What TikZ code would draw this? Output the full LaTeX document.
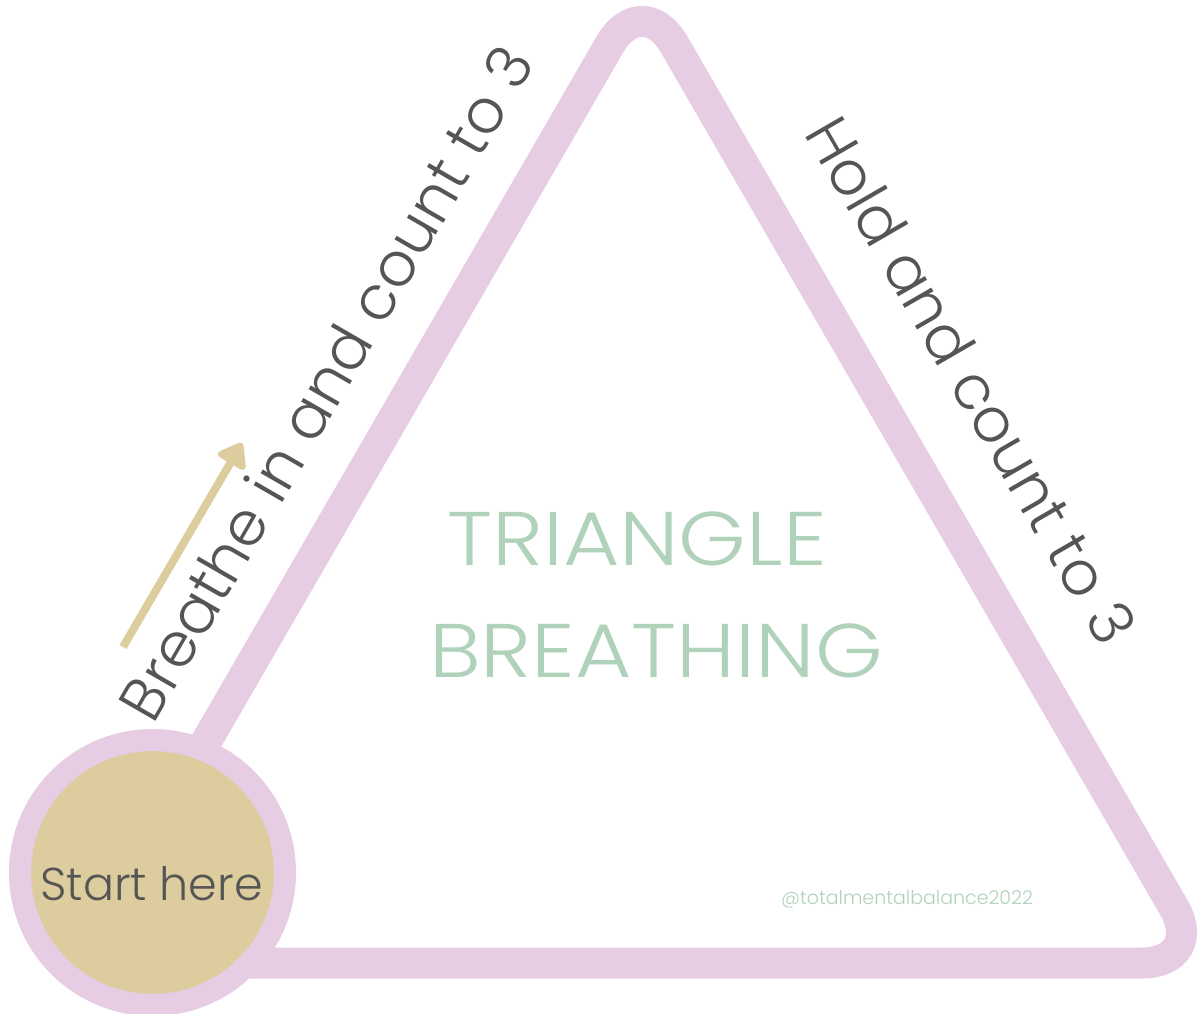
\documentclass[tikz,border=0pt]{standalone}
\usepackage{fontspec}
\setmainfont{Poppins}[UprightFont=* Light]
\newfontfamily\widelight{Poppins}[UprightFont=* Light, FakeStretch=1.14]
\usetikzlibrary{arrows.meta}

\definecolor{breathLilac}{HTML}{E6CDE3}
\definecolor{breathSand}{HTML}{DCCC9E}
\definecolor{breathInk}{HTML}{555555}
\definecolor{breathSage}{HTML}{B0D1BA}

\tikzset{
  sidelabel/.style={text=breathInk, inner sep=0pt, font=\fontsize{61}{61}\selectfont},
  titlelabel/.style={text=breathSage, inner sep=0pt, anchor=base, font=\widelight\fontsize{76}{76}\selectfont},
  startdisc/.style={circle, draw=breathLilac, fill=breathSand, line width=22pt, minimum size=265pt, inner sep=0pt},
}

\begin{document}
\begin{tikzpicture}[x=1pt, y=-1pt]
        \useasboundingbox (0,0) rectangle (1199,1014);

        % corners of the triangle
        \coordinate (baseMid) at (642,963);
        \coordinate (baseR) at (1206,963);
        \coordinate (apex) at (642,-11);
        \coordinate (baseL) at (78,963);
        \draw[breathLilac, line width=31pt, rounded corners=64pt]
            (baseMid) -- (baseR) -- (apex) -- (baseL) -- cycle;

        % start circle
        \node[startdisc] (start) at (152.5,872.5) {};
        \node[text=breathInk, inner sep=0pt, anchor=base, font=\fontsize{46}{46}\selectfont]
            (startText) at (151.5,900) {Start here};

        % inhale arrow
        \coordinate (inhaleTail) at (123,647);
        \coordinate (inhaleTip) at (242,443);
        \draw[breathSand, line width=8pt, -{Triangle[length=26pt, width=36pt, round]}]
            (inhaleTail) -- (inhaleTip);

        % side texts
        \node[sidelabel, rotate=60] (inhale) at (325.5,382.5) {Breathe in and count to 3};
        \node[sidelabel, rotate=-60] (hold) at (972,380) {Hold and count to 3};

        % title
        \node[titlelabel] (title1) at (637,565) {TRIANGLE};
        \node[titlelabel] (title2) at (656,677) {BREATHING};

        \node[text=breathSage, inner sep=0pt, anchor=base, font=\fontsize{19}{19}\selectfont]
            (tag) at (907,904) {@totalmentalbalance2022};
    \end{tikzpicture}
\end{document}
